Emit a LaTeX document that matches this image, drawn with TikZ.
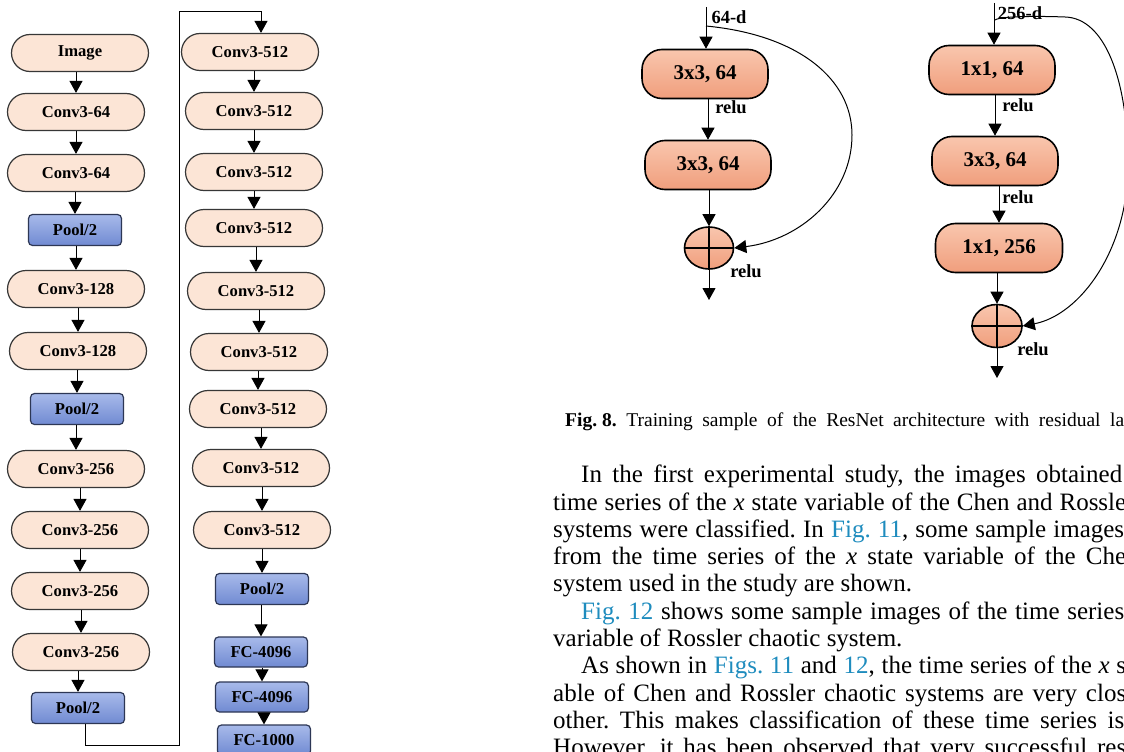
\documentclass[tikz,border=0pt]{standalone}
\usepackage{fontspec}
\setmainfont{Liberation Serif}
\usetikzlibrary{shapes.misc,shapes.geometric,arrows.meta,calc}

\definecolor{peach}{RGB}{252,229,214}
\definecolor{peachline}{RGB}{55,55,55}
\definecolor{pooltop}{RGB}{168,186,234}
\definecolor{poolbot}{RGB}{112,138,210}
\definecolor{poolline}{RGB}{45,55,85}
\definecolor{salmtop}{RGB}{249,198,174}
\definecolor{salmbot}{RGB}{240,158,124}
\definecolor{linkblue}{RGB}{30,140,190}
\frenchspacing

\begin{document}
\begin{tikzpicture}[x=1pt,y=-1pt,
  conv/.style={rounded rectangle, draw=peachline, fill=peach, line width=1.2pt,
    minimum width=137pt, minimum height=37pt, inner sep=0pt,
    font=\fontsize{16.6}{18}\selectfont\bfseries},
  pool/.style={rectangle, rounded corners=4pt, draw=poolline, line width=1.2pt,
    top color=pooltop, bottom color=poolbot, minimum width=93pt,
    minimum height=31pt, inner sep=0pt,
    font=\fontsize{16.6}{18}\selectfont\bfseries},
  flow/.style={-{Triangle[width=13pt,length=12pt]}, line width=1pt},
  resbox/.style={rectangle, rounded corners=20pt, draw=black, line width=1.6pt,
    top color=salmtop, bottom color=salmbot, minimum width=126pt,
    minimum height=49pt, inner sep=0pt,
    font=\fontsize{21}{24}\selectfont\bfseries},
  sumnode/.style={ellipse, draw=black, line width=1.6pt, top color=salmtop,
    bottom color=salmbot, minimum width=49pt, minimum height=42pt, inner sep=0pt},
  lbl/.style={inner sep=0pt, font=\fontsize{18.5}{20}\selectfont\bfseries},
  body/.style={anchor=base west, inner sep=0pt, font=\fontsize{25}{27}\selectfont},
  captext/.style={anchor=base west, inner sep=0pt, font=\fontsize{19.5}{22}\selectfont},
]
\useasboundingbox (0,0) rectangle (1124,752);
\fill[white] (0,0) rectangle (1124,752);
\clip (0,0) rectangle (1124,752);

% ---------- VGG stack, first column ----------
\node[conv] (L1)  at (80,53)  {Image};
\node[conv] (L2)  at (76,112) {Conv3-64};
\node[conv] (L3)  at (76,173) {Conv3-64};
\node[pool] (L4)  at (75,230) {Pool/2};
\node[conv] (L5)  at (76,289) {Conv3-128};
\node[conv] (L6)  at (78,351) {Conv3-128};
\node[pool] (L7)  at (77,409) {Pool/2};
\node[conv] (L8)  at (76,469) {Conv3-256};
\node[conv] (L9)  at (80,530) {Conv3-256};
\node[conv] (L10) at (80,591) {Conv3-256};
\node[conv] (L11) at (81,652) {Conv3-256};
\node[pool] (L12) at (78,708) {Pool/2};

\foreach \a/\b in {L1/L2,L2/L3,L3/L4,L4/L5,L5/L6,L6/L7,L7/L8,L8/L9,L9/L10,L10/L11,L11/L12}
  \draw[flow] (\b.north |- \a.south) -- (\b.north);

% ---------- VGG stack, second column ----------
\node[conv] (R1)  at (250,52)  {Conv3-512};
\node[conv] (R2)  at (254,111) {Conv3-512};
\node[conv] (R3)  at (254,172) {Conv3-512};
\node[conv] (R4)  at (254,228) {Conv3-512};
\node[conv] (R5)  at (256,291) {Conv3-512};
\node[conv] (R6)  at (259,352) {Conv3-512};
\node[conv] (R7)  at (258,409) {Conv3-512};
\node[conv] (R8)  at (261,468) {Conv3-512};
\node[conv] (R9)  at (262,530) {Conv3-512};
\node[pool] (R10) at (262,589) {Pool/2};
\node[pool, minimum height=30pt] (R11) at (261,652) {FC-4096};
\node[pool, minimum height=30pt] (R12) at (262,697) {FC-4096};
\node[pool, minimum height=30pt] (R13) at (264,740) {FC-1000};

\foreach \a/\b in {R1/R2,R2/R3,R3/R4,R4/R5,R5/R6,R6/R7,R7/R8,R8/R9,R9/R10,R10/R11,R11/R12,R12/R13}
  \draw[flow] (\b.north |- \a.south) -- (\b.north);

% link between the two columns
\coordinate (w1) at (85,745);
\coordinate (w2) at (179,745);
\coordinate (w3) at (179,11);
\coordinate (w4) at (261,11);
\draw[flow, line width=0.9pt] (L12.south -| w1) -- (w1) -- (w2) -- (w3) -- (w4) -- (w4 |- R1.north);

% ---------- residual block, two layers ----------
\coordinate (inA) at (706,7);
\node[resbox] (A1) at (705,74) {3x3, 64};
\node[resbox] (A2) at (708,165) {3x3, 64};
\node[sumnode] (SA) at (709,248) {};
\draw[line width=1.4pt] (SA.north) -- (SA.south) (SA.west) -- (SA.east);
\coordinate (outA) at (709,300);
\draw[flow] (inA) -- (inA |- A1.north);
\draw[flow] (A2.north |- A1.south) -- (A2.north);
\draw[flow] (SA.north |- A2.south) -- (SA.north);
\draw[flow] (SA.south) -- (outA);
\node[lbl] (dA) at (729,17) {64-d};
\node[lbl] (rA1) at (731,107) {relu};
\node[lbl] (rA2) at (746,271) {relu};
\coordinate (skA) at (706,26);
\draw[flow] (skA) .. controls (800,35) and (852,80) .. (852,135)
  .. controls (852,195) and (800,240) .. (SA.east);

% ---------- residual block, bottleneck ----------
\coordinate (inB) at (994,3);
\node[resbox] (B1) at (992,70) {1x1, 64};
\node[resbox] (B2) at (995,161) {3x3, 64};
\node[resbox, minimum width=127pt] (B3) at (999,248) {1x1, 256};
\node[sumnode, minimum width=50pt, minimum height=43pt] (SB) at (997,326) {};
\draw[line width=1.4pt] (SB.north) -- (SB.south) (SB.west) -- (SB.east);
\coordinate (outB) at (997,378);
\draw[flow] (inB) -- (inB |- B1.north);
\draw[flow] (B2.north |- B1.south) -- (B2.north);
\draw[flow] (B3.north |- B2.south) -- (B3.north);
\draw[flow] (SB.north |- B3.south) -- (SB.north);
\draw[flow] (SB.south) -- (outB);
\node[lbl] (dB) at (1020,13) {256-d};
\node[lbl] (rB1) at (1018,105) {relu};
\node[lbl] (rB2) at (1018,197) {relu};
\node[lbl] (rB3) at (1033,349) {relu};
\coordinate (skB) at (995,20);
\draw[flow] (skB) .. controls (1000,16) and (1040,16) .. (1065,17)
  .. controls (1105,18) and (1128,80) .. (1128,165)
  .. controls (1128,250) and (1080,315) .. (SB.east);

% ---------- caption and running text ----------
\node[captext] (capt) at (565,426) {\hbox to 559pt{\textbf{\mbox{Fig.\ 8.}}\hskip 0.5em Training sample of the ResNet architecture with residual la}};

\node[body] (t1)  at (581,482) {\hbox to 541pt{In the first experimental study, the images obtained}};
\node[body] (t2)  at (553,510) {\hbox to 573pt{time series of the \textit{x} state variable of the Chen and Rossle}};
\node[body] (t3)  at (553,537) {\hbox to 571pt{systems were classified. In \textcolor{linkblue}{Fig.~11}, some sample images}};
\node[body] (t4)  at (553,564) {\hbox to 573pt{from the time series of the \textit{x} state variable of the Che}};
\node[body] (t5)  at (553,591) {system used in the study are shown.};
\node[body] (t6)  at (581,619) {\hbox to 543pt{\textcolor{linkblue}{Fig.~12} shows some sample images of the time series}};
\node[body] (t7)  at (553,646) {variable of Rossler chaotic system.};
\node[body] (t8)  at (581,673) {\hbox to 545pt{As shown in \textcolor{linkblue}{Figs.~11} and \textcolor{linkblue}{12}, the time series of the \textit{x} s}};
\node[body] (t9)  at (553,701) {\hbox to 573pt{able of Chen and Rossler chaotic systems are very clos}};
\node[body] (t10) at (553,728) {\hbox to 571pt{other. This makes classification of these time series is}};
\node[body] (t11) at (553,755) {\hbox to 573pt{However, it has been observed that very successful res}};
\end{tikzpicture}
\end{document}
